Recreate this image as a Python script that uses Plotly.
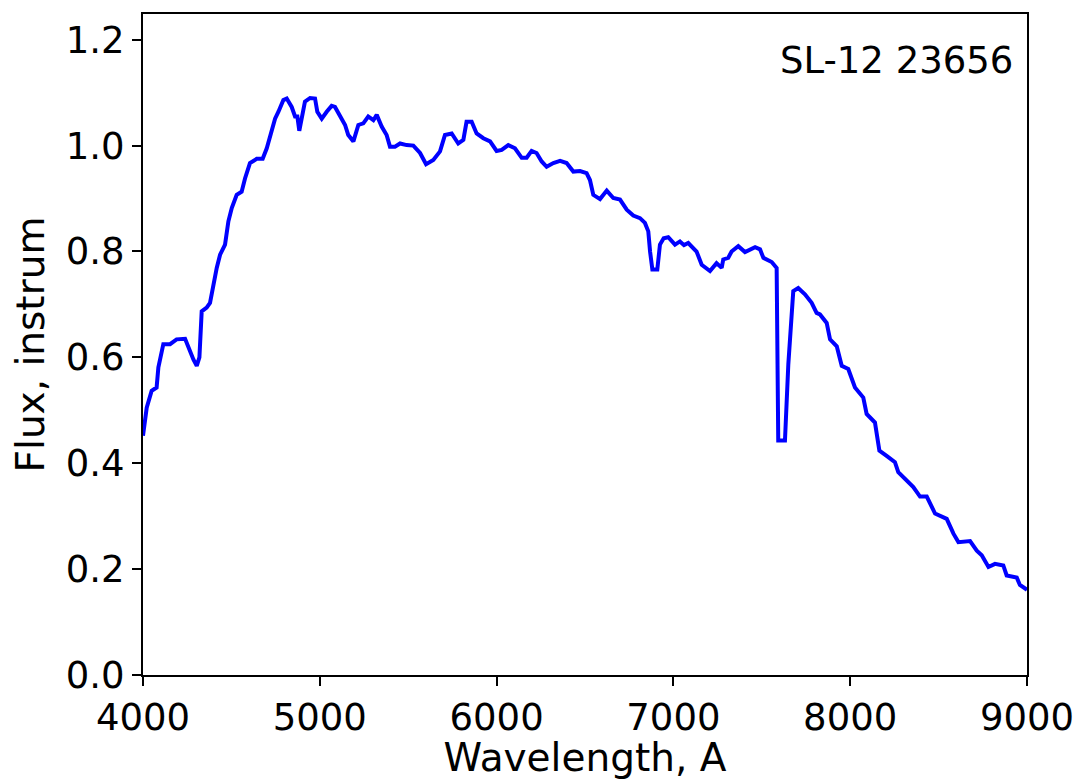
import plotly.graph_objects as go

wavelength = [4000, 4021, 4049, 4077, 4087, 4115, 4153, 4190, 4238, 4266, 4285, 4304, 4319, 4332,
              4360, 4379, 4398, 4417, 4436, 4464, 4483, 4502, 4530, 4558, 4577, 4605, 4643, 4677,
              4700, 4722, 4747, 4766, 4794, 4813, 4841, 4860, 4873, 4884, 4897, 4916, 4945, 4973,
              4986, 5011, 5039, 5067, 5086, 5114, 5143, 5161, 5190, 5218, 5246, 5274, 5303, 5322,
              5350, 5378, 5397, 5425, 5454, 5491, 5529, 5567, 5601, 5642, 5680, 5708, 5746, 5783,
              5812, 5830, 5859, 5887, 5925, 5963, 6000, 6029, 6066, 6104, 6142, 6170, 6198, 6226,
              6255, 6283, 6321, 6359, 6396, 6434, 6472, 6509, 6528, 6547, 6585, 6623, 6660, 6698,
              6736, 6773, 6811, 6839, 6858, 6868, 6881, 6909, 6924, 6945, 6971, 7009, 7037, 7060,
              7084, 7131, 7160, 7207, 7244, 7273, 7282, 7310, 7329, 7367, 7405, 7462, 7490, 7509,
              7556, 7584, 7593, 7631, 7650, 7678, 7706, 7744, 7782, 7810, 7829, 7867, 7886, 7924,
              7952, 7989, 8027, 8074, 8093, 8140, 8165, 8206, 8253, 8272, 8319, 8357, 8395, 8433,
              8480, 8546, 8584, 8612, 8678, 8716, 8744, 8782, 8819, 8866, 8885, 8942, 8960, 9000]

flux = [0.452, 0.505, 0.537, 0.543, 0.581, 0.625, 0.625, 0.634, 0.635, 0.609, 0.596, 0.584, 0.600, 0.687,
        0.694, 0.703, 0.738, 0.769, 0.794, 0.813, 0.857, 0.882, 0.907, 0.913, 0.938, 0.967, 0.975, 0.975,
        0.995, 1.020, 1.051, 1.064, 1.086, 1.089, 1.073, 1.055, 1.055, 1.028, 1.055, 1.083, 1.090, 1.089,
        1.064, 1.051, 1.064, 1.075, 1.073, 1.055, 1.039, 1.020, 1.008, 1.039, 1.042, 1.055, 1.048, 1.058,
        1.036, 1.020, 0.998, 0.998, 1.004, 1.001, 1.000, 0.986, 0.965, 0.973, 0.989, 1.020, 1.023, 1.004,
        1.011, 1.045, 1.045, 1.023, 1.014, 1.008, 0.990, 0.992, 1.001, 0.995, 0.977, 0.977, 0.990, 0.986,
        0.970, 0.960, 0.967, 0.971, 0.967, 0.951, 0.952, 0.948, 0.935, 0.907, 0.899, 0.915, 0.901, 0.898,
        0.879, 0.868, 0.863, 0.854, 0.838, 0.800, 0.766, 0.766, 0.813, 0.825, 0.827, 0.813, 0.819, 0.812,
        0.816, 0.800, 0.775, 0.763, 0.778, 0.769, 0.785, 0.788, 0.800, 0.810, 0.799, 0.808, 0.804, 0.788,
        0.780, 0.769, 0.443, 0.443, 0.587, 0.725, 0.731, 0.719, 0.703, 0.684, 0.681, 0.665, 0.634, 0.621,
        0.584, 0.578, 0.543, 0.524, 0.493, 0.477, 0.424, 0.414, 0.402, 0.383, 0.367, 0.355, 0.337, 0.337,
        0.305, 0.295, 0.267, 0.251, 0.253, 0.235, 0.226, 0.204, 0.210, 0.207, 0.188, 0.184, 0.170, 0.161]

x_ticks = [4000, 5000, 6000, 7000, 8000, 9000]
y_ticks = [0.0, 0.2, 0.4, 0.6, 0.8, 1.0, 1.2]
label_text = "SL-12 23656"

FONT = "DejaVu Sans"

fig = go.Figure()
fig.add_trace(go.Scatter(x=wavelength, y=flux, mode="lines",
                         line=dict(color="#0000ff", width=4), showlegend=False))

fig.update_layout(
    width=1074, height=772,
    margin=dict(l=135, r=55, t=4, b=105),
    paper_bgcolor="white", plot_bgcolor="white",
    font=dict(family=FONT, size=38, color="black"),
    xaxis=dict(range=[4000, 9000], tickvals=x_ticks, ticks="outside", ticklen=9, tickwidth=2,
               tickcolor="black", showline=True, linecolor="black", linewidth=2, mirror=True,
               showgrid=False, zeroline=False,
               title=dict(text="Wavelength, A", font=dict(size=39), standoff=6),
               tickfont=dict(size=37)),
    yaxis=dict(range=[0, 1.2486], tickvals=y_ticks, tickformat=".1f", ticks="outside", ticklen=9,
               tickwidth=2, tickcolor="black", showline=True, linecolor="black", linewidth=2,
               mirror=True, showgrid=False, zeroline=False,
               title=dict(text="Flux, instrum", font=dict(size=39), standoff=10),
               tickfont=dict(size=37)),
    annotations=[dict(text=label_text, xref="paper", yref="paper", x=0.9864, y=0.93,
                      xanchor="right", yanchor="middle", showarrow=False,
                      font=dict(size=37, family=FONT, color="black"))],
)

fig.write_html("out.html")
